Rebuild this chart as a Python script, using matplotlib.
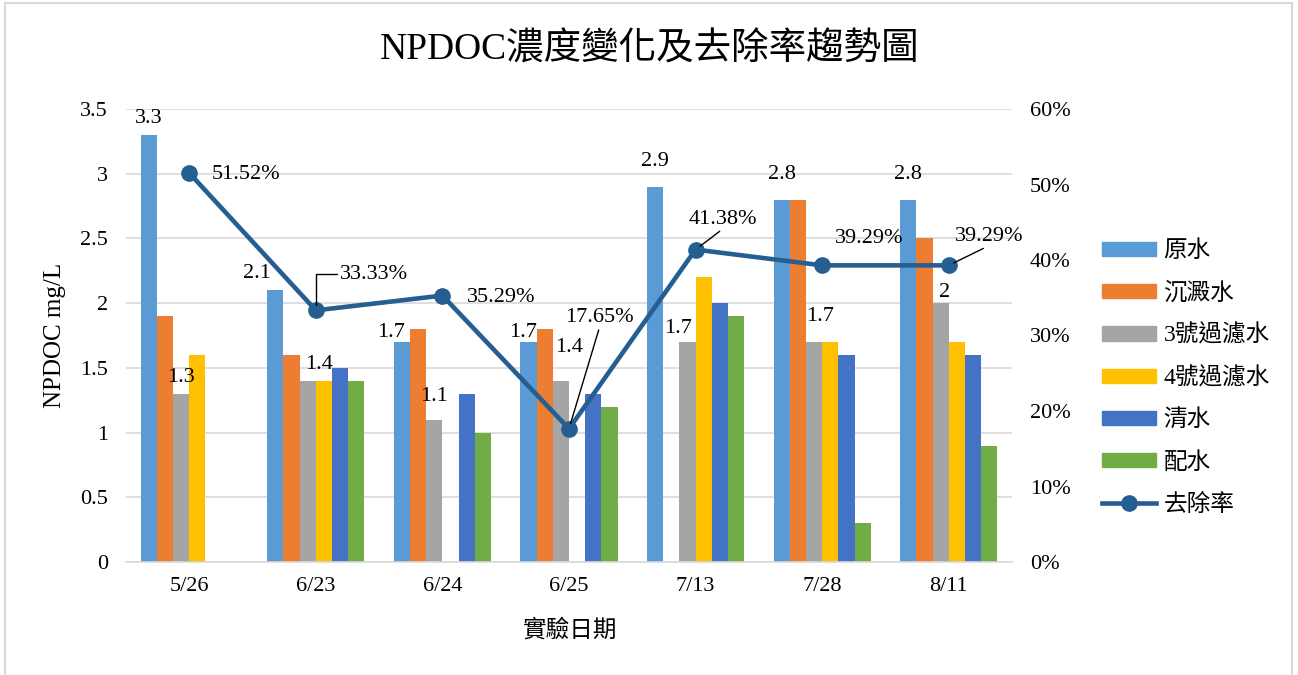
import numpy as np
import matplotlib
matplotlib.use("Agg")
import matplotlib.pyplot as plt
from matplotlib.patches import Rectangle
from matplotlib.lines import Line2D

plt.rcParams['font.family'] = ['Liberation Serif', 'Noto Sans CJK TC']

# --- data ---
dates = ['5/26', '6/23', '6/24', '6/25', '7/13', '7/28', '8/11']
series_names = ['原水', '沉澱水', '3號過濾水', '4號過濾水', '清水', '配水']
raw_water = [3.3, 2.1, 1.7, 1.7, 2.9, 2.8, 2.8]
settled = [1.9, 1.6, 1.8, 1.8, np.nan, 2.8, 2.5]
filter3 = [1.3, 1.4, 1.1, 1.4, 1.7, 1.7, 2.0]
filter4 = [1.6, 1.4, np.nan, np.nan, 2.2, 1.7, 1.7]
clear_water = [np.nan, 1.5, 1.3, 1.3, 2.0, 1.6, 1.6]
dist_water = [np.nan, 1.4, 1.0, 1.2, 1.9, 0.3, 0.9]
removal = [51.52, 33.33, 35.29, 17.65, 41.38, 39.29, 39.29]

colors = ['#5B9BD5', '#ED7D31', '#A5A5A5', '#FFC000', '#4472C4', '#70AD47']
line_color = '#255E91'

# label offsets (points, to label centre) for the data labels
raw_offsets = [(0, 12), (-13, 12), (-8, 6.5), (-4, 6.5), (0, 18), (0, 18), (0, 18)]
gray_offsets = [(0, 11.5), (8, 11.5), (0, 17), (6, 24), (-7, 10), (4, 18), (3, 8)]
pct_offsets = [(41, -1.4), (42, 26), (42, -1.4), (22, 80), (20, 22), (34, 19.5), (29, 21)]
pct_leaders = [None, 'angle', None, 'straight', 'straight', None, 'straight']

FS = 16

fig = plt.figure(figsize=(12.98, 6.75), dpi=100)
fig.patches.append(Rectangle((5 / 1298, -0.01), 1287 / 1298, 1.0 - 3 / 675 + 0.01,
                             transform=fig.transFigure, fill=False,
                             edgecolor='#D9D9D9', lw=1.5))

ax = fig.add_axes([126 / 1298, 1 - 562 / 675, 886 / 1298, 453 / 675])
ax2 = ax.twinx()

x = np.arange(len(dates))
width = 0.128
all_series = [raw_water, settled, filter3, filter4, clear_water, dist_water]
for i, vals in enumerate(all_series):
    ax.bar(x + (i - 2.5) * width, vals, width, color=colors[i], label=series_names[i], zorder=2)

# data labels for raw water and filter 3
for i, v in enumerate(raw_water):
    ax.annotate(f'{v:g}', (x[i] - 2.5 * width, v), xytext=raw_offsets[i],
                textcoords='offset points', ha='center', va='center', fontsize=FS)
for i, v in enumerate(filter3):
    ax.annotate(f'{v:g}', (x[i] - 0.5 * width, v), xytext=gray_offsets[i],
                textcoords='offset points', ha='center', va='center', fontsize=FS)

ax.set_xlim(-0.5, len(dates) - 0.5)
ax.set_ylim(0, 3.5)
ax.set_yticks(np.arange(0, 3.51, 0.5))
ax.set_yticklabels(['0', '0.5', '1', '1.5', '2', '2.5', '3', '3.5'])
ax.set_xticks(x)
ax.set_xticklabels(dates)
ax.grid(axis='y', color='#D9D9D9', lw=1.2, zorder=0)
ax.set_axisbelow(True)
for s in ['top', 'left', 'right']:
    ax.spines[s].set_visible(False)
ax.spines['bottom'].set_color('#D9D9D9')
ax.spines['bottom'].set_linewidth(1.2)
ax.tick_params(axis='both', length=0, labelsize=FS)
ax.tick_params(axis='y', pad=13)
ax.tick_params(axis='x', pad=11)

# removal rate line
ax2.plot(x, removal, color=line_color, lw=3.3, marker='o', markersize=11, zorder=5)
ax2.set_ylim(0, 60)
ax2.set_yticks(np.arange(0, 61, 10))
ax2.set_yticklabels([f'{t}%' for t in range(0, 61, 10)])
ax2.tick_params(axis='y', length=0, labelsize=FS, pad=13)
for s in ax2.spines.values():
    s.set_visible(False)

for i, r in enumerate(removal):
    arrow = None
    if pct_leaders[i] == 'angle':
        arrow = dict(arrowstyle='-', color='black', lw=1, relpos=(0, 0.5),
                     connectionstyle='angle,angleA=0,angleB=90,rad=0', shrinkA=0, shrinkB=4)
    elif pct_leaders[i] == 'straight':
        arrow = dict(arrowstyle='-', color='black', lw=1, relpos=(0.5, 0),
                     shrinkA=0, shrinkB=4)
    ax2.annotate(f'{r:.2f}%', (x[i], r), xytext=pct_offsets[i], textcoords='offset points',
                 ha='center', va='center', fontsize=FS, arrowprops=arrow, zorder=6)

# titles and axis labels
fig.text(0.5008, 1 - 50 / 675, 'NPDOC濃度變化及去除率趨勢圖', ha='center', va='center', fontsize=27)
fig.text(55 / 1298, 1 - 335 / 675, 'NPDOC mg/L', rotation=90, ha='center', va='center', fontsize=18)
fig.text(570 / 1298, 1 - 630 / 675, '實驗日期', ha='center', va='center', fontsize=17)

# legend
handles = [Rectangle((0, 0), 1, 1, color=c) for c in colors]
handles.append(Line2D([], [], color=line_color, lw=3.3, marker='o', markersize=11))
fig.legend(handles, series_names + ['去除率'], loc='center left',
           bbox_to_anchor=(1102 / 1298, 1 - 378 / 675), frameon=False, fontsize=17,
           handlelength=2.3, handleheight=0.55, labelspacing=0.85, handletextpad=0.3,
           borderpad=0, borderaxespad=0)

fig.savefig('out.png', dpi=100)
